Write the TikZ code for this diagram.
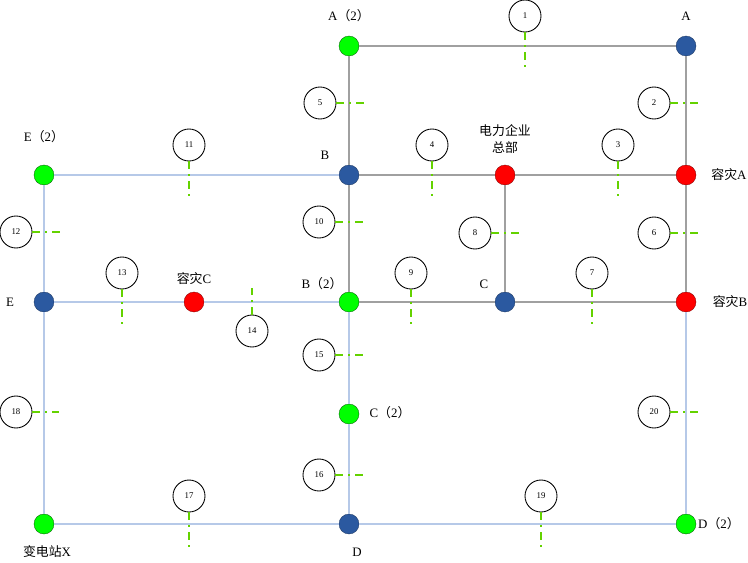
\documentclass[tikz,border=0pt]{standalone}
\usepackage{fontspec}
\setmainfont{Liberation Serif}
\newfontfamily\cjk{Noto Sans CJK SC}
\usetikzlibrary{calc}

\definecolor{dotgreen}{RGB}{0,255,0}
\definecolor{dotblue}{RGB}{43,89,160}
\definecolor{dotred}{RGB}{255,0,0}
\definecolor{greyline}{RGB}{160,160,160}
\definecolor{blueline}{RGB}{182,201,232}
\definecolor{tickgreen}{RGB}{100,210,0}

\tikzset{
 gdot/.style={circle,fill=dotgreen,draw=green!35!black,line width=.3pt,minimum size=6mm,inner sep=0pt},
 bdot/.style={circle,fill=dotblue,draw=dotblue!60!black,line width=.3pt,minimum size=6mm,inner sep=0pt},
 rdot/.style={circle,fill=dotred,draw=red!50!black,line width=.3pt,minimum size=6mm,inner sep=0pt},
 num/.style={circle,draw=black,line width=.75pt,minimum size=9.6mm,inner sep=0pt,font=\fontsize{7.5}{8}\selectfont},
 lbl/.style={font=\fontsize{11}{13}\selectfont,inner sep=1pt},
 greyl/.style={greyline,line width=.4mm},
 bluel/.style={blueline,line width=.45mm},
 tick/.style={tickgreen,line width=.35mm,dash pattern=on 2.4mm off 1.5mm on .6mm off 1.5mm}
}

\begin{document}
\begin{tikzpicture}[x=.3mm,y=-.3mm]
\useasboundingbox (0,0) rectangle (748,562);
% stations
\node[gdot] (A2) at (349,46) {};
\node[bdot] (A) at (686,46) {};
\node[bdot] (B) at (349,175) {};
\node[rdot] (HQ) at (505,175) {};
\node[rdot] (RA) at (686,175) {};
\node[gdot] (E2) at (44,175) {};
\node[bdot] (E) at (44,302) {};
\node[rdot] (RC) at (194,302) {};
\node[gdot] (B2) at (349,302) {};
\node[bdot] (C) at (505,302) {};
\node[rdot] (RB) at (686,302) {};
\node[gdot] (C2) at (349,414) {};
\node[gdot] (X) at (44,524) {};
\node[bdot] (D) at (349,524) {};
\node[gdot] (D2) at (686,524) {};
% grey links
\draw[greyl] (A2) -- (A);
\draw[greyl] (A2) -- (B);
\draw[greyl] (A) -- (RA);
\draw[greyl] (B) -- (HQ);
\draw[greyl] (HQ) -- (RA);
\draw[greyl] (HQ) -- (C);
\draw[greyl] (RA) -- (RB);
\draw[greyl] (B) -- (B2);
\draw[greyl] (B2) -- (C);
\draw[greyl] (C) -- (RB);
% blue links
\draw[bluel] (E2) -- (B);
\draw[bluel] (E2) -- (E);
\draw[bluel] (E) -- (RC);
\draw[bluel] (RC) -- (B2);
\draw[bluel] (E) -- (X);
\draw[bluel] (B2) -- (C2);
\draw[bluel] (C2) -- (D);
\draw[bluel] (X) -- (D);
\draw[bluel] (D) -- (D2);
\draw[bluel] (RB) -- (D2);
% labels
\node[lbl] (tA2) at (349,16) {A{\cjk （}2{\cjk ）}};
\node[lbl] (tA) at (686,16) {A};
\node[lbl] (tB) at (325,155) {B};
\node[lbl,align=center] (tHQ) at (505,139) {{\cjk 电力企业}\\[1pt]{\cjk 总部}};
\node[lbl] (tRA) at (729,175) {{\cjk 容灾}A};
\node[lbl] (tE2) at (44,137) {E{\cjk （}2{\cjk ）}};
\node[lbl] (tE) at (10,302) {E};
\node[lbl] (tRC) at (194,279) {{\cjk 容灾}C};
\node[lbl] (tB2) at (322,284) {B{\cjk （}2{\cjk ）}};
\node[lbl] (tC) at (484,284) {C};
\node[lbl] (tRB) at (730,302) {{\cjk 容灾}B};
\node[lbl] (tC2) at (390,413) {C{\cjk （}2{\cjk ）}};
\node[lbl] (tX) at (47,552) {{\cjk 变电站}X};
\node[lbl] (tD) at (357,552) {D};
\node[lbl] (tD2) at (719,524) {D{\cjk （}2{\cjk ）}};
% sections
\node[num] (n1) at (525,16) {1};
\node[num] (n2) at (654,103) {2};
\node[num] (n3) at (618,145) {3};
\node[num] (n4) at (432,145) {4};
\node[num] (n5) at (320,103) {5};
\node[num] (n6) at (654,233) {6};
\node[num] (n7) at (592,273) {7};
\node[num] (n8) at (475,233) {8};
\node[num] (n9) at (411,273) {9};
\node[num] (n10) at (319,222) {10};
\node[num] (n11) at (189,145) {11};
\node[num] (n12) at (16,232) {12};
\node[num] (n13) at (122,273) {13};
\node[num] (n14) at (252,331) {14};
\node[num] (n15) at (319,355) {15};
\node[num] (n16) at (319,475) {16};
\node[num] (n17) at (189,496) {17};
\node[num] (n18) at (16,412) {18};
\node[num] (n19) at (541,496) {19};
\node[num] (n20) at (654,412) {20};
\draw[tick] (n1) -- ++(0,54);
\draw[tick] (n2) -- ++(46,0);
\draw[tick] (n3) -- ++(0,55);
\draw[tick] (n4) -- ++(0,55);
\draw[tick] (n5) -- ++(45,0);
\draw[tick] (n6) -- ++(46,0);
\draw[tick] (n7) -- ++(0,55);
\draw[tick] (n8) -- ++(44,0);
\draw[tick] (n9) -- ++(0,55);
\draw[tick] (n10) -- ++(44,0);
\draw[tick] (n11) -- ++(0,53);
\draw[tick] (n12) -- ++(45,0);
\draw[tick] (n13) -- ++(0,55);
\draw[tick] (n14) -- ++(0,-43);
\draw[tick] (n15) -- ++(44,0);
\draw[tick] (n16) -- ++(45,0);
\draw[tick] (n17) -- ++(0,52);
\draw[tick] (n18) -- ++(43,0);
\draw[tick] (n19) -- ++(0,52);
\draw[tick] (n20) -- ++(46,0);
\end{tikzpicture}
\end{document}
